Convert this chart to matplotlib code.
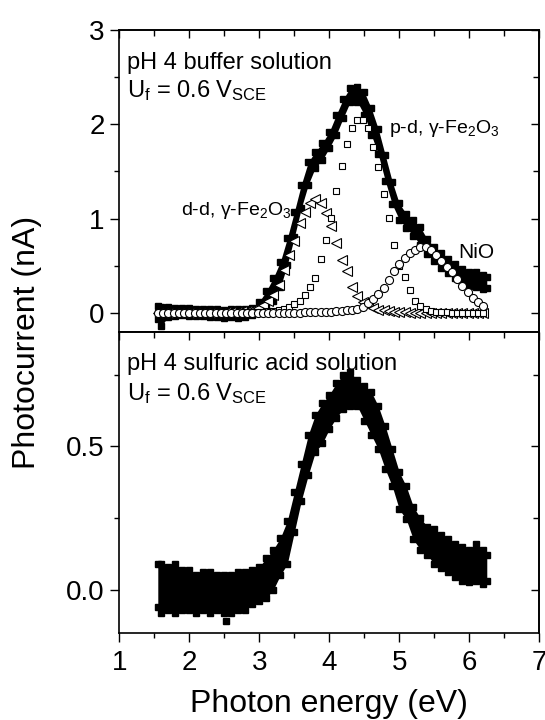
import matplotlib
matplotlib.use("Agg")
import matplotlib.pyplot as plt
from matplotlib.ticker import MultipleLocator, FormatStrFormatter

plt.rcParams["font.family"] = ["Liberation Sans", "DejaVu Sans"]
plt.rcParams["mathtext.fontset"] = "custom"
plt.rcParams["mathtext.rm"] = "Liberation Sans"
plt.rcParams["mathtext.it"] = "Liberation Sans:italic"

# measured photocurrent band (upper / lower edge of the dense point cloud)
e_meas = [1.55, 1.60, 1.70, 1.80, 1.90, 2.00, 2.10, 2.20, 2.30, 2.40, 2.50,
          2.60, 2.70, 2.80, 2.90, 3.00, 3.10, 3.20, 3.30, 3.40, 3.50, 3.60,
          3.70, 3.80, 3.90, 4.00, 4.10, 4.20, 4.30, 4.40, 4.50, 4.60, 4.70,
          4.80, 4.90, 5.00, 5.10, 5.20, 5.30, 5.40, 5.50, 5.60, 5.70, 5.80,
          5.90, 6.00, 6.10, 6.20, 6.25]

buf_hi = [0.07, 0.06, 0.06, 0.05, 0.05, 0.05, 0.04, 0.04, 0.04, 0.04, 0.03,
          0.04, 0.04, 0.04, 0.05, 0.12, 0.23, 0.37, 0.54, 0.79, 1.07, 1.36,
          1.60, 1.71, 1.80, 1.92, 2.10, 2.27, 2.39, 2.40, 2.34, 2.17, 1.95,
          1.67, 1.39, 1.16, 1.05, 0.98, 0.91, 0.78, 0.70, 0.64, 0.57, 0.52,
          0.46, 0.43, 0.43, 0.40, 0.38]
buf_lo = [-0.07, -0.14, -0.04, -0.03, -0.02, -0.03, -0.03, -0.03, -0.04, -0.04,
          -0.05, -0.04, -0.05, -0.04, -0.02, 0.00, 0.06, 0.13, 0.27, 0.51, 0.80,
          1.11, 1.36, 1.54, 1.62, 1.75, 1.89, 2.07, 2.24, 2.24, 2.10, 1.89, 1.68,
          1.40, 1.15, 0.99, 0.90, 0.82, 0.72, 0.62, 0.55, 0.48, 0.42, 0.37, 0.32,
          0.29, 0.27, 0.25, 0.26]

acid_hi = [0.09, 0.09, 0.08, 0.09, 0.07, 0.07, 0.05, 0.06, 0.06, 0.05, 0.05,
           0.05, 0.06, 0.06, 0.07, 0.08, 0.11, 0.14, 0.18, 0.24, 0.34, 0.44,
           0.54, 0.61, 0.65, 0.68, 0.72, 0.75, 0.76, 0.73, 0.71, 0.69, 0.64,
           0.57, 0.49, 0.41, 0.36, 0.29, 0.25, 0.22, 0.21, 0.19, 0.175, 0.16,
           0.15, 0.14, 0.16, 0.14, 0.12]
acid_lo = [-0.06, -0.08, -0.07, -0.08, -0.07, -0.07, -0.08, -0.07, -0.08, -0.07,
           -0.08, -0.08, -0.07, -0.07, -0.05, -0.04, -0.03, 0.00, 0.05, 0.09,
           0.20, 0.31, 0.40, 0.48, 0.51, 0.56, 0.60, 0.63, 0.64, 0.64, 0.59,
           0.54, 0.49, 0.42, 0.36, 0.28, 0.245, 0.175, 0.14, 0.12, 0.09, 0.075,
           0.06, 0.045, 0.03, 0.025, 0.03, 0.02, 0.03]
acid_out_e = [2.53]
acid_out_i = [-0.108]

# fitted components (pH 4 buffer)
e_fit = [1.55, 1.63, 1.70, 1.78, 1.85, 1.93, 2.00, 2.08, 2.15, 2.23, 2.30,
         2.38, 2.45, 2.53, 2.60, 2.68, 2.75, 2.83, 2.90, 2.98, 3.05, 3.13,
         3.20, 3.28, 3.35, 3.43, 3.50, 3.58, 3.65, 3.73, 3.80, 3.88, 3.95,
         4.03, 4.10, 4.18, 4.25, 4.33, 4.40, 4.48, 4.55, 4.63, 4.70, 4.78,
         4.85, 4.93, 5.00, 5.08, 5.15, 5.23, 5.30, 5.38, 5.45, 5.53, 5.60,
         5.68, 5.75, 5.83, 5.90, 5.98, 6.05, 6.13, 6.20]
dd_fit = [0, 0, 0, 0, 0, 0, 0, 0, 0, 0, 0,
          0, 0, 0.005, 0.007, 0.01, 0.015, 0.02, 0.03, 0.05, 0.08, 0.13,
          0.19, 0.30, 0.45, 0.61, 0.76, 0.95, 1.07, 1.17, 1.21, 1.17, 1.06,
          0.92, 0.74, 0.56, 0.44, 0.27, 0.18, 0.11, 0.08, 0.05, 0.035, 0.025,
          0.015, 0.01, 0.008, 0.005, 0, 0, 0, 0, 0, 0, 0,
          0, 0, 0, 0, 0, 0, 0, 0]
pd_fit = [0, 0, 0, 0, 0, 0, 0, 0, 0, 0, 0,
          0, 0, 0, 0, 0, 0, 0.005, 0.005, 0.008, 0.01, 0.015,
          0.02, 0.03, 0.045, 0.065, 0.09, 0.13, 0.19, 0.27, 0.37, 0.57, 0.77,
          1.01, 1.29, 1.56, 1.79, 1.96, 2.05, 2.05, 1.96, 1.76, 1.55, 1.26,
          1.01, 0.72, 0.50, 0.38, 0.24, 0.13, 0.07, 0.04, 0.02, 0.012, 0.008,
          0.005, 0, 0, 0, 0, 0, 0, 0]
nio_fit = [0, 0, 0, 0, 0, 0, 0, 0, 0, 0, 0,
           0, 0, 0, 0, 0, 0, 0, 0, 0, 0, 0,
           0, 0, 0, 0, 0, 0.003, 0.004, 0.005, 0.006, 0.008, 0.01,
           0.012, 0.016, 0.02, 0.025, 0.032, 0.045, 0.065, 0.10, 0.15, 0.20, 0.26,
           0.35, 0.44, 0.52, 0.58, 0.63, 0.67, 0.70, 0.70, 0.67, 0.61, 0.55,
           0.49, 0.43, 0.36, 0.29, 0.22, 0.16, 0.11, 0.07]


def style_axes(ax, ymajor, yminor, yfmt, xlabels):
    ax.set_xlim(1, 7)
    ax.xaxis.set_major_locator(MultipleLocator(1))
    ax.xaxis.set_minor_locator(MultipleLocator(0.5))
    ax.yaxis.set_major_locator(MultipleLocator(ymajor))
    ax.yaxis.set_minor_locator(MultipleLocator(yminor))
    ax.yaxis.set_major_formatter(FormatStrFormatter(yfmt))
    for sp in ax.spines.values():
        sp.set_linewidth(1.2)
    ax.tick_params(which="both", direction="out", width=1.0, labelsize=20,
                   top=False, right=False)
    ax.tick_params(which="major", length=6.5)
    ax.tick_params(which="minor", length=3.6)
    ax.tick_params(axis="y", pad=4)
    ax.tick_params(axis="x", pad=6, bottom=xlabels, labelbottom=xlabels)

    # mirrored ticks pointing inwards on top and right
    sx = ax.secondary_xaxis("top")
    sx.xaxis.set_major_locator(MultipleLocator(1))
    sx.xaxis.set_minor_locator(MultipleLocator(0.5))
    sy = ax.secondary_yaxis("right")
    sy.yaxis.set_major_locator(MultipleLocator(ymajor))
    sy.yaxis.set_minor_locator(MultipleLocator(yminor))
    for sec in (sx, sy):
        sec.tick_params(which="both", direction="in", width=1.0,
                        labeltop=False, labelright=False)
        sec.tick_params(which="major", length=6)
        sec.tick_params(which="minor", length=4)
        for sp in sec.spines.values():
            sp.set_linewidth(1.2)


fig = plt.figure(figsize=(5.45, 7.2), dpi=100)
ax_top = fig.add_axes([0.2189, 0.5393, 0.7706, 0.4190])
ax_bot = fig.add_axes([0.2189, 0.1213, 0.7706, 0.4181])

# --- upper panel: pH 4 buffer with fitted components
ax_top.fill_between(e_meas, buf_lo, buf_hi, color="k", lw=0, zorder=2)
ax_top.plot(e_meas, buf_hi, "s", color="k", ms=4.5, zorder=2)
ax_top.plot(e_meas, buf_lo, "s", color="k", ms=4.5, zorder=2)
ax_top.plot(e_fit, dd_fit, "<", ls="none", mfc="white", mec="k", ms=7,
            mew=0.8, zorder=3)
ax_top.plot(e_fit, pd_fit, "s", ls="none", mfc="white", mec="k", ms=5,
            mew=0.8, zorder=4)
ax_top.plot(e_fit, nio_fit, "o", ls="none", mfc="white", mec="k", ms=5.8,
            mew=0.8, zorder=5)
ax_top.set_ylim(-0.2, 3)
style_axes(ax_top, 1, 0.5, "%d", False)

ax_top.text(0.018, 0.871, "pH 4 buffer solution", transform=ax_top.transAxes,
            fontsize=17, va="baseline")
ax_top.text(0.018, 0.779, r"U$_\mathrm{f}$ = 0.6 V$_\mathrm{SCE}$",
            transform=ax_top.transAxes, fontsize=17, va="baseline")
ax_top.text(1.88, 1.04, r"d-d, γ-Fe$_\mathrm{2}$O$_\mathrm{3}$", fontsize=14,
            va="baseline", zorder=6)
ax_top.text(4.85, 1.91, r"p-d, γ-Fe$_\mathrm{2}$O$_\mathrm{3}$", fontsize=14,
            va="baseline", zorder=6)
ax_top.text(5.84, 0.58, "NiO", fontsize=15, va="baseline", zorder=6)

# --- lower panel: pH 4 sulfuric acid
ax_bot.fill_between(e_meas, acid_lo, acid_hi, color="k", lw=0, zorder=2)
ax_bot.plot(e_meas, acid_hi, "s", color="k", ms=4.5, zorder=2)
ax_bot.plot(e_meas, acid_lo, "s", color="k", ms=4.5, zorder=2)
ax_bot.plot(acid_out_e, acid_out_i, "s", color="k", ms=4.5, zorder=2)
ax_bot.set_ylim(-0.15, 0.9)
style_axes(ax_bot, 0.5, 0.25, "%.1f", True)

ax_bot.text(0.018, 0.874, "pH 4 sulfuric acid solution",
            transform=ax_bot.transAxes, fontsize=17, va="baseline")
ax_bot.text(0.018, 0.771, r"U$_\mathrm{f}$ = 0.6 V$_\mathrm{SCE}$",
            transform=ax_bot.transAxes, fontsize=17, va="baseline")

fig.text(0.05, 0.524, "Photocurrent (nA)", rotation=90, fontsize=23,
         ha="center", va="center")
fig.text(0.6037, 0.0105, "Photon energy (eV)", fontsize=23, ha="center",
         va="baseline")

fig.savefig("out.png", dpi=100)
